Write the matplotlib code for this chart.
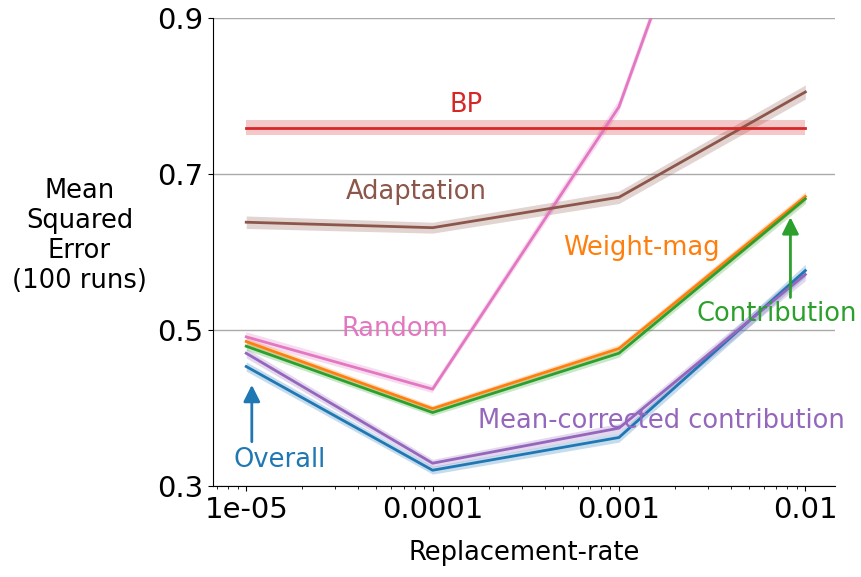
import numpy as np
import matplotlib
matplotlib.use('Agg')
from matplotlib import pyplot as plt

rates = [1e-05, 1e-04, 1e-03, 1e-02]
rate_labels = ['1e-05', '0.0001', '0.001', '0.01']

overall = [0.453, 0.320, 0.362, 0.576]
mean_corrected = [0.470, 0.329, 0.374, 0.571]
contribution = [0.479, 0.394, 0.470, 0.668]
weight_mag = [0.485, 0.399, 0.476, 0.671]
bp = [0.759, 0.759, 0.759, 0.759]
adaptation = [0.638, 0.631, 0.670, 0.805]
random_ = [0.491, 0.424, 0.786, 1.45]

overall_err = [0.006, 0.005, 0.006, 0.008]
mean_corrected_err = [0.006, 0.005, 0.006, 0.008]
contribution_err = [0.005, 0.004, 0.005, 0.006]
weight_mag_err = [0.005, 0.004, 0.005, 0.006]
bp_err = [0.0095, 0.0095, 0.0095, 0.0095]
adaptation_err = [0.008, 0.007, 0.008, 0.009]
random_err = [0.006, 0.005, 0.008, 0.01]

series = [
    ('Overall', overall, overall_err, 'tab:blue'),
    ('Mean-corrected contribution', mean_corrected, mean_corrected_err, 'tab:purple'),
    ('Weight-mag', weight_mag, weight_mag_err, 'tab:orange'),
    ('Contribution', contribution, contribution_err, 'tab:green'),
    ('Random', random_, random_err, 'tab:pink'),
    ('Adaptation', adaptation, adaptation_err, 'tab:brown'),
    ('BP', bp, bp_err, 'tab:red'),
]

fig = plt.figure(figsize=(8.61, 5.77), dpi=100)
ax = fig.add_axes([0.247, 0.158, 0.723, 0.811])

for name, vals, err, col in series:
    vals = np.array(vals)
    err = np.array(err)
    ax.fill_between(rates, vals - err, vals + err, color=col, alpha=0.25, lw=0)
    ax.plot(rates, vals, color=col, lw=2)

ax.set_xscale('log')
ax.set_xlim(10 ** -5.18, 10 ** -1.84)
ax.set_ylim(0.3, 0.9)
ax.set_xticks(rates)
ax.set_xticklabels(rate_labels)
ax.set_yticks([0.3, 0.5, 0.7, 0.9])
ax.set_yticklabels(['0.3', '0.5', '0.7', '0.9'])
ax.tick_params(axis='both', labelsize=21)
ax.yaxis.grid(True, color='#aaaaaa', lw=1)
ax.set_axisbelow(True)
ax.spines['top'].set_visible(False)
ax.spines['right'].set_visible(False)

ax.set_xlabel('Replacement-rate', fontsize=18.5, labelpad=12)
ax.set_ylabel('Mean\nSquared\nError\n(100 runs)', fontsize=18.5, rotation=0,
              ha='center', va='center')
ax.yaxis.set_label_coords(-0.214, 0.534)

fs = 18.5
ax.text(10 ** -3.82, 0.788, 'BP', color='tab:red', fontsize=fs, ha='center', va='center')
ax.text(10 ** -4.09, 0.677, 'Adaptation', color='tab:brown', fontsize=fs, ha='center', va='center')
ax.text(10 ** -2.88, 0.605, 'Weight-mag', color='tab:orange', fontsize=fs, ha='center', va='center')
ax.text(10 ** -2.156, 0.520, 'Contribution', color='tab:green', fontsize=fs, ha='center', va='center')
ax.text(10 ** -4.20, 0.501, 'Random', color='tab:pink', fontsize=fs, ha='center', va='center')
ax.text(10 ** -2.77, 0.383, 'Mean-corrected contribution', color='tab:purple', fontsize=fs,
        ha='center', va='center')
ax.text(10 ** -4.82, 0.333, 'Overall', color='tab:blue', fontsize=fs, ha='center', va='center')

ax.annotate('', xy=(10 ** -4.97, 0.433), xytext=(10 ** -4.97, 0.353),
            arrowprops=dict(arrowstyle='-|>', color='tab:blue', lw=2, mutation_scale=25))
ax.annotate('', xy=(10 ** -2.08, 0.648), xytext=(10 ** -2.08, 0.538),
            arrowprops=dict(arrowstyle='-|>', color='tab:green', lw=2, mutation_scale=25))

plt.savefig('out.png', dpi=100)
